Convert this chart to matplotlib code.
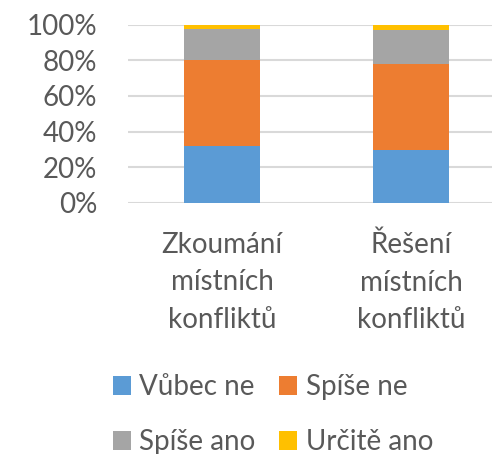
import numpy as np
import matplotlib
matplotlib.use("Agg")
import matplotlib.pyplot as plt

plt.rcParams['font.family'] = ['Lato', 'DejaVu Sans']

categories = ["Zkoumání\nmístních\nkonfliktů", "Řešení\nmístních\nkonfliktů"]
series_names = ["Vůbec ne", "Spíše ne", "Spíše ano", "Určitě ano"]
vubec_ne = [0.318, 0.296]
spise_ne = [0.485, 0.481]
spise_ano = [0.175, 0.191]
urcite_ano = [0.022, 0.032]
colors = ["#5B9BD5", "#ED7D31", "#A5A5A5", "#FFC000"]

text_col = "#595959"
fs = 20
W, H = 492, 454
fig = plt.figure(figsize=(W / 100, H / 100), dpi=100)
# axes placed in pixel coordinates of the reference
left, right, bottom, top = 127.7, 492, 202.7, 24.7
ax = fig.add_axes([left / W, (H - bottom) / H, (right - left) / W, (bottom - top) / H])

x = np.arange(len(categories))
base = np.zeros(len(categories))
for vals, name, c in zip([vubec_ne, spise_ne, spise_ano, urcite_ano], series_names, colors):
    ax.bar(x, vals, width=0.4, bottom=base, color=c, label=name, zorder=3)
    base += np.array(vals)

ax.set_xlim(-0.499, 1.429)
ax.set_ylim(0, 1)
ax.set_yticks(np.linspace(0, 1, 6))
ax.set_yticklabels([f"{int(v * 100)}%" for v in np.linspace(0, 1, 6)])
ax.grid(axis='y', color="#D9D9D9", linewidth=1.5, zorder=0)
for s in ax.spines.values():
    s.set_visible(False)
ax.tick_params(axis='y', length=0, pad=22, labelsize=fs, labelcolor=text_col)
ax.tick_params(axis='x', length=0, pad=21, labelsize=fs, labelcolor=text_col)
ax.set_xticks(x)
ax.set_xticklabels(categories, linespacing=1.55)

# row-wise order like the reference: Vůbec ne, Spíše ne / Spíše ano, Určitě ano
handles, labels = ax.get_legend_handles_labels()
order = [0, 2, 1, 3]
fig.legend([handles[i] for i in order], [labels[i] for i in order], ncol=2,
           loc='upper left', bbox_to_anchor=(113 / W, 1 - 374 / H),
           frameon=False, fontsize=fs, labelcolor=text_col,
           borderpad=0, borderaxespad=0,
           handlelength=0.65, handleheight=0.65, handletextpad=0.3,
           columnspacing=0.85, labelspacing=1.05)

fig.savefig("out.png", dpi=100)
